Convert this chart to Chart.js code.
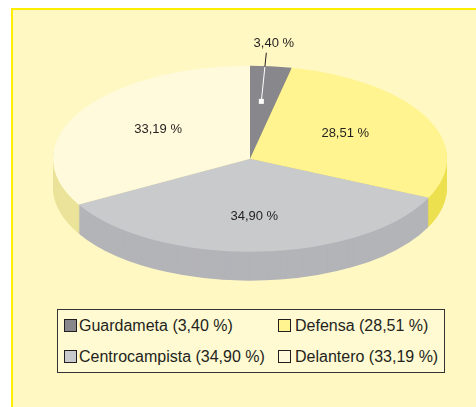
<!DOCTYPE html>
<html>
<head>
<meta charset="utf-8">
<script src="https://cdn.jsdelivr.net/npm/chart.js@4"></script>
<style>
  html, body { margin: 0; padding: 0; background: #fff; width: 476px; height: 407px; overflow: hidden; }
  #frame { position: absolute; left: 11px; top: 8px; width: 500px; height: 440px; border: 2px solid #ffee00; background: #fff8c3; }
  #chart { position: absolute; left: 0; top: 0; }
  #legend {
    position: absolute; left: 57px; top: 309px; width: 386px; height: 62px;
    border: 1px solid #333; background: #fffad2;
    display: grid; grid-template-columns: 214px auto; grid-auto-rows: 31px;
    font: 16px "Liberation Sans", Arial, Helvetica, sans-serif; color: #231f20;
  }
  .item { display: flex; align-items: center; padding-left: 6px; white-space: nowrap; }
  .item:nth-child(even) .sw { margin-right: 4px; }
  .sw { width: 11px; height: 11px; border: 1px solid #231f20; margin-right: 2px; }
</style>
</head>
<body>
<div id="frame"></div>
<canvas id="chart" width="476" height="407"></canvas>
<div id="legend"></div>
<script>
// Distribución por puesto (%)
const categories = ['Guardameta', 'Defensa', 'Centrocampista', 'Delantero'];
const shares = [3.40, 28.51, 34.90, 33.19];

const topColors = ['#88888c', '#fff48f', '#c9cacc', '#fffadb'];
const sideColors = ['#707074', '#ede050', '#b3b4b8', '#ebe39a'];

// elipse del pastel en pantalla
const CX = 250, CY = 158.7, RX = 197, RY = 93, DEPTH = 29;

const fmt = v => v.toFixed(2).replace('.', ',') + ' %';

// leyenda
const legendEl = document.getElementById('legend');
categories.forEach((c, i) => {
  const it = document.createElement('div');
  it.className = 'item';
  const sw = document.createElement('span');
  sw.className = 'sw';
  sw.style.background = topColors[i];
  it.appendChild(sw);
  it.appendChild(document.createTextNode(c + ' (' + fmt(shares[i]) + ')'));
  legendEl.appendChild(it);
});

let saved = false;
const pie3d = {
  id: 'pie3d',
  beforeDatasetsDraw(chart) {
    const ctx = chart.ctx;
    const arcs = chart.getDatasetMeta(0).data;
    const p0 = arcs[0].getProps(['x', 'y', 'outerRadius'], true);
    const R = p0.outerRadius;
    ctx.save();
    saved = true;
    ctx.translate(CX, CY);
    ctx.scale(RX / R, RY / R);
    ctx.translate(-p0.x, -p0.y);
    // lateral
    for (let d = DEPTH; d >= 1; d--) {
      const off = d * R / RY;
      arcs.forEach((a, i) => {
        const p = a.getProps(['x', 'y', 'startAngle', 'endAngle', 'outerRadius'], true);
        ctx.beginPath();
        ctx.moveTo(p.x, p.y + off);
        ctx.arc(p.x, p.y + off, p.outerRadius, p.startAngle, p.endAngle);
        ctx.closePath();
        ctx.fillStyle = sideColors[i];
        ctx.fill();
      });
    }
  },
  afterDatasetsDraw(chart) {
    if (saved) { chart.ctx.restore(); saved = false; }
  },
  afterDraw(chart) {
    const ctx = chart.ctx;
    const arcs = chart.getDatasetMeta(0).data;
    ctx.save();
    ctx.font = '13px "Liberation Sans", Arial, Helvetica, sans-serif';
    ctx.fillStyle = '#231f20';
    ctx.textAlign = 'center';
    ctx.textBaseline = 'middle';
    arcs.forEach((a, i) => {
      const p = a.getProps(['startAngle', 'endAngle'], true);
      const mid = (p.startAngle + p.endAngle) / 2;
      const x = CX + RX * 0.54 * Math.cos(mid);
      const y = CY + RY * 0.62 * Math.sin(mid);
      const txt = fmt(shares[i]);
      if (p.endAngle - p.startAngle < 0.3) {
        // etiqueta exterior con guía
        const ex = x + 5, ey = CY - RY - 13;
        const ty = CY - RY + 1;
        const tx = x + (ex - x) * (y - ty) / (y - ey);
        ctx.lineWidth = 1;
        ctx.strokeStyle = '#fff';
        ctx.beginPath(); ctx.moveTo(x, y); ctx.lineTo(tx, ty); ctx.stroke();
        ctx.strokeStyle = '#231f20';
        ctx.beginPath(); ctx.moveTo(tx, ty); ctx.lineTo(ex, ey); ctx.stroke();
        ctx.fillStyle = '#fff';
        ctx.fillRect(x - 2.5, y - 2.5, 5, 5);
        ctx.fillStyle = '#231f20';
        ctx.fillText(txt, ex + 7.5, ey - 9);
      } else {
        ctx.fillText(txt, x, y);
      }
    });
    ctx.restore();
  }
};

new Chart(document.getElementById('chart'), {
  type: 'pie',
  data: {
    labels: categories,
    datasets: [{
      data: shares,
      backgroundColor: topColors,
      borderWidth: 0,
      clip: false,
    }],
  },
  options: {
    responsive: false,
    animation: false,
    events: [],
    plugins: {
      legend: { display: false },
      tooltip: { enabled: false },
    },
  },
  plugins: [pie3d],
});
</script>
</body>
</html>
